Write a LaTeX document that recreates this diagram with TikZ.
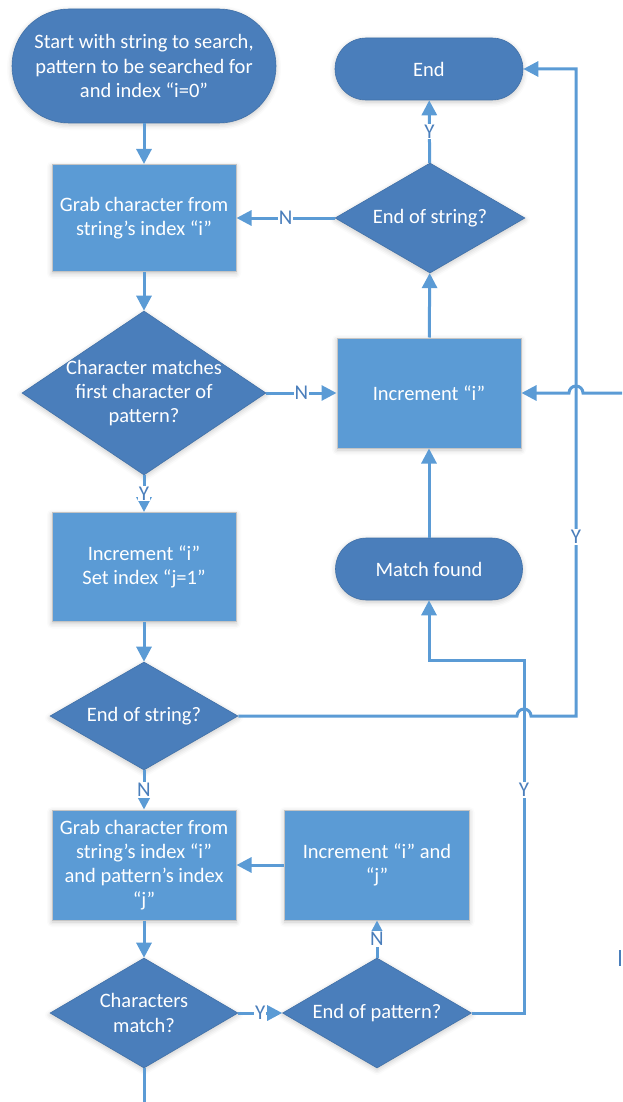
\documentclass[tikz,border=0pt]{standalone}
\usepackage{fontspec}
\setmainfont{Carlito}
\usetikzlibrary{shapes.geometric,arrows.meta,shadows.blur}
\definecolor{termfill}{RGB}{74,126,187}
\definecolor{termrim}{RGB}{65,113,168}
\definecolor{procfill}{RGB}{91,155,213}
\definecolor{edgeblue}{RGB}{91,155,213}
\definecolor{labelblue}{RGB}{74,126,187}
\definecolor{boxrim}{RGB}{196,196,196}

\begin{document}
\begin{tikzpicture}[x=1pt,y=-1pt,
  softshadow/.style={blur shadow={shadow xshift=0pt, shadow yshift=-2pt, shadow blur radius=5pt, shadow opacity=22}},
  shapefont/.style={font=\fontsize{20.5}{24.2}\selectfont, text=white, align=center},
  term/.style={shapefont, rectangle, fill=termfill, draw=termrim, line width=0.6pt, inner sep=0pt, softshadow},
  proc/.style={shapefont, rectangle, fill=procfill, draw=boxrim, line width=1pt, inner sep=0pt, softshadow},
  decision/.style={diamond, fill=termfill, draw=termrim, line width=0.6pt, inner sep=0pt, softshadow},
  dtext/.style={shapefont, inner sep=0pt},
  link/.style={draw=edgeblue, line width=3pt},
  flow/.style={link, -{Triangle[length=15pt,width=15pt]}},
  yn/.style={fill=white, text=labelblue, font=\fontsize{21}{21}\selectfont, inner sep=1pt},
]
\useasboundingbox (0,0) rectangle (622,1102);

% ---- shapes ----
\node[term, minimum width=264pt, minimum height=114pt, rounded corners=57pt] (start) at (144,66)
  {Start with string to search,\\pattern to be searched for\\and index “i=0”};
\node[term, minimum width=188pt, minimum height=62pt, rounded corners=31pt] (endt) at (429,69) {End};
\node[proc, minimum width=184pt, minimum height=107pt] (grab1) at (144,218)
  {Grab character from\\string’s index “i”};
\node[decision, minimum width=190pt, minimum height=110pt] (eos1) at (430,218) {};
\node[dtext] (eos1t) at (eos1.center) {End of string?};
\node[decision, minimum width=244pt, minimum height=164pt] (cm1) at (144,393) {};
\node[dtext] (cm1t) at (cm1.center) {Character matches\\first character of\\pattern?};
\node[proc, minimum width=184pt, minimum height=110pt] (inci) at (429,393) {Increment “i”};
\node[proc, minimum width=184pt, minimum height=109pt] (incj) at (144,567)
  {Increment “i”\\Set index “j=1”};
\node[term, minimum width=187pt, minimum height=62pt, rounded corners=31pt] (match) at (429,569) {Match found};
\node[decision, minimum width=188pt, minimum height=108pt] (eos2) at (144,716) {};
\node[dtext] (eos2t) at (eos2.center) {End of string?};
\node[proc, minimum width=184pt, minimum height=110pt] (grab2) at (144,865)
  {Grab character from\\string’s index “i”\\and pattern’s index\\“j”};
\node[proc, minimum width=185pt, minimum height=110pt] (incij) at (377,865)
  {Increment “i” and\\“j”};
\node[decision, minimum width=188pt, minimum height=110pt] (chm) at (144,1013) {};
\node[dtext] (chmt) at (chm.center) {Characters\\match?};
\node[decision, minimum width=189pt, minimum height=110pt] (eop) at (377,1013) {};
\node[dtext] (eopt) at (eop.center) {End of pattern?};

% ---- bend points and line hops ----
\coordinate (hop1) at (576,393);
\coordinate (hop2) at (524,716);
\coordinate (rtop) at (576,69);
\coordinate (rbot) at (576,716);
\coordinate (ybend) at (524,660);
\coordinate (loopin) at (622,393);
\coordinate (down) at (144,1102);

% ---- connectors ----
\draw[flow] (start) -- (grab1);
\draw[flow] (grab1) -- (cm1);
\draw[flow] (cm1) -- node[yn]{Y} (incj);
\draw[flow] (cm1) -- node[yn]{N} (inci);
\draw[flow] (inci) -- (eos1);
\draw[flow] (eos1) -- node[yn]{Y} (endt);
\draw[flow] (eos1) -- node[yn]{N} (grab1);
\draw[flow] (match) -- (inci);
\draw[flow] (incj) -- (eos2);
\draw[flow] (eos2) -- node[yn]{N} (grab2);
\draw[flow] (grab2) -- (chm);
\draw[flow] (chm) -- node[yn]{Y} (eop);
\draw[flow] (eop) -- node[yn]{N} (incij);
\draw[flow] (incij) -- (grab2);
\draw[flow] (eop.east) -| node[yn, pos=0.816]{Y} (ybend) -| (match.south);
\draw[flow] (eos2.east) -- ([xshift=-7pt]hop2) arc[start angle=180, end angle=0, radius=7pt]
  -- (rbot) -- node[yn, pos=0.277]{Y} (rtop) -- (endt.east);
\draw[flow] (loopin) -- ([xshift=7pt]hop1) arc[start angle=0, end angle=180, radius=7pt] -- (inci.east);
\draw[link] (chm.south) -- (down);
\draw[draw=labelblue, line width=1.5pt] (620,950) -- (620,966);
\end{tikzpicture}
\end{document}
